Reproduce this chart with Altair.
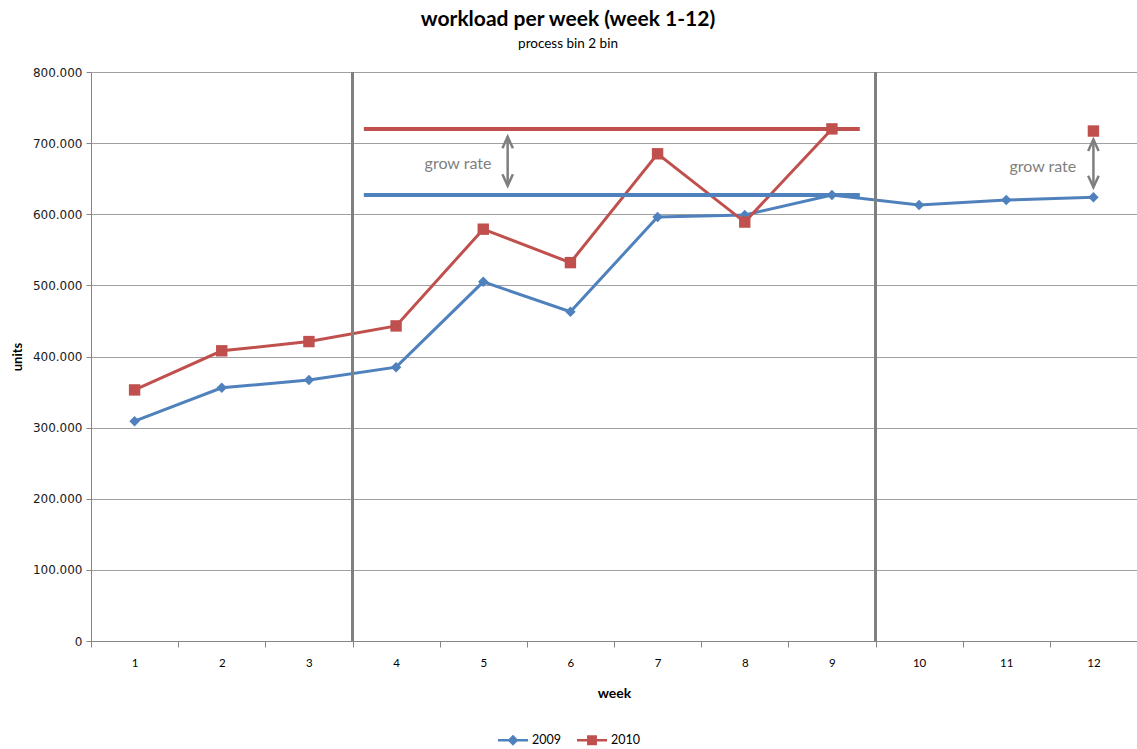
import altair as alt
import pandas as pd

# weekly workload, in units
weeks = list(range(1, 13))
units_2009 = [309000, 356000, 367000, 385000, 505000, 463000, 596000, 599000, 627000, 613000, 620000, 624000]
units_2010 = [353000, 408000, 421000, 443000, 579000, 532000, 685000, 589000, 720000, None, None, 717000]
series_names = ["2009", "2010"]
series_colors = ["#4F81BD", "#C0504D"]

# period boundaries and the span of the level lines (weeks 4-9)
period_bounds = [3.5, 9.5]
level_span = [3.63, 9.32]
level_weeks = [4, 9]

# "grow rate" arrows and their captions
arrow_x = [5.28, 12.0]
arrow_low = [640000, 638000]
arrow_high = [709000, 705000]
caption_x = [4.71, 11.42]
caption_y = [670000, 667000]
caption = "grow rate"

W, H = 1046, 569
BAND = W / 12
FONT = "Lato"
GREY = "#7F7F7F"
hex_of = dict(zip(series_names, series_colors))

# long table, with a run id so that gaps break the line
rows = []
for name, vals in zip(series_names, [units_2009, units_2010]):
    run = 0
    prev = None
    for w, v in zip(weeks, vals):
        if v is None:
            prev = None
            continue
        if prev is None:
            run += 1
        rows.append({"series": name, "hex": hex_of[name], "week": w, "units": v,
                     "run": f"{name}-{run}"})
        prev = v
df = pd.DataFrame(rows)

levels = pd.DataFrame({
    "series": series_names,
    "hex": series_colors,
    "start": [level_span[0]] * 2,
    "end": [level_span[1]] * 2,
    "units": [max(v for w, v in zip(weeks, vals) if v is not None and level_weeks[0] <= w <= level_weeks[1])
              for vals in (units_2009, units_2010)],
})
bounds = pd.DataFrame({"week": period_bounds})
arrows = pd.DataFrame({"week": arrow_x, "units": arrow_low, "high": arrow_high})
captions = pd.DataFrame({"week": caption_x, "units": caption_y, "text": [caption] * 2})

x_scale = alt.Scale(domain=[0.5, 12.5], nice=False, zero=False)
y_scale = alt.Scale(domain=[0, 800000], nice=False, zero=True)


def x_axis():
    return alt.Axis(
        values=[w - 0.5 for w in weeks] + [12.5],
        labelExpr="datum.value < 12 ? format(datum.value + 0.5, 'd') : ''",
        labelOffset=BAND / 2, labelOverlap=False, labelBound=False, labelFlush=False,
        grid=False, tickSize=6, tickColor="#868686", domainColor="#868686",
        labelFont=FONT, labelFontSize=11.5, labelColor="#000000", labelPadding=10,
        titleFont=FONT, titleFontSize=14, titleFontWeight="bold", titlePadding=18,
    )


def y_axis():
    return alt.Axis(
        values=list(range(0, 800001, 100000)),
        labelExpr="datum.value == 0 ? '0' : replace(format(datum.value, ','), ',', '.')",
        grid=True, gridColor="#A0A0A0", gridWidth=1,
        tickSize=5, tickColor="#868686", domainColor="#868686",
        labelFont="DejaVu Sans", labelFontSize=12, labelColor="#1A1A1A", labelPadding=4,
        titleFont=FONT, titleFontSize=13, titleFontWeight="bold", titlePadding=8,
    )


def X(field="week:Q"):
    return alt.X(field, scale=x_scale, axis=x_axis(), title="week")


def Y(field="units:Q"):
    return alt.Y(field, scale=y_scale, axis=y_axis(), title="units")


def legend():
    return alt.Legend(
        title=None, orient="none", direction="horizontal",
        legendX=407, legendY=653, symbolSize=900, symbolOpacity=1,
        symbolStrokeWidth=0, labelFont=FONT, labelFontSize=12.5, labelColor="#000000",
        labelOffset=4, columnPadding=16,
    )


series_lines = alt.Chart(df).mark_line(strokeWidth=3).encode(
    x=X(), y=Y(), color=alt.Color("hex:N", scale=None), detail="run:N",
)

pts_2009 = alt.Chart(df[df.series == "2009"]).mark_point(
    shape="diamond", filled=True, size=110, opacity=1
).encode(x=X(), y=Y(), color=alt.Color("hex:N", scale=None))
pts_2010 = alt.Chart(df[df.series == "2010"]).mark_point(
    shape="square", filled=True, size=130, opacity=1
).encode(x=X(), y=Y(), color=alt.Color("hex:N", scale=None))

level_lines = alt.Chart(levels).mark_rule(strokeWidth=4).encode(
    x=X("start:Q"), x2="end:Q", y=Y(), color=alt.Color("hex:N", scale=None),
)

dividers = alt.Chart(bounds).mark_rule(color="#808080", strokeWidth=3).encode(x=X())

arrow_shaft = alt.Chart(arrows).mark_rule(color=GREY, strokeWidth=2.5).encode(
    x=X(), y=Y(), y2="high:Q")
arrow_top = alt.Chart(arrows).mark_point(
    shape="M-1,2.2L0,0L1,2.2", filled=False, color=GREY, strokeWidth=2.5, size=110, opacity=1
).encode(x=X(), y=Y("high:Q"))
arrow_bottom = alt.Chart(arrows).mark_point(
    shape="M-1,-2.2L0,0L1,-2.2", filled=False, color=GREY, strokeWidth=2.5, size=110, opacity=1
).encode(x=X(), y=Y())

caption_text = alt.Chart(captions).mark_text(
    font=FONT, fontSize=16, color=GREY, align="center", baseline="middle"
).encode(x=X(), y=Y(), text="text:N")

# legend entries: line with marker
legend_layer = alt.Chart(df).mark_point(filled=True, opacity=0).encode(
    x=X(), y=Y(),
    color=alt.Color("series:N", scale=alt.Scale(domain=series_names, range=series_colors),
                    legend=legend()),
    shape=alt.Shape("series:N", scale=alt.Scale(
        domain=series_names,
        range=["M-1,-0.09H1V0.09H-1Z M0,-0.36L0.36,0L0,0.36L-0.36,0Z",
               "M-1,-0.09H1V0.09H-1Z M-0.33,-0.33H0.33V0.33H-0.33Z"]),
        legend=legend()),
)

chart = alt.layer(
    series_lines, level_lines, dividers, pts_2009, pts_2010,
    arrow_shaft, arrow_top, arrow_bottom, caption_text, legend_layer,
).properties(
    width=W, height=H,
    title=alt.Title("workload per week (week 1-12)", subtitle="process bin 2 bin",
                    font=FONT, fontSize=21, fontWeight="bold", color="#000000",
                    subtitleFont=FONT, subtitleFontSize=13.5, subtitleColor="#000000",
                    anchor="middle", dx=-46, offset=16, subtitlePadding=7),
    autosize=alt.AutoSizeParams(type="none"),
    padding={"left": 91, "top": 72, "right": 0, "bottom": 108},
    background="white",
).configure_view(stroke=None)

chart.save("out.html", embed_options={"renderer": "svg", "actions": False})
